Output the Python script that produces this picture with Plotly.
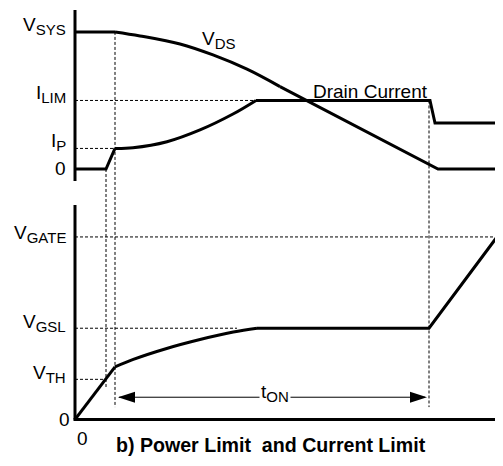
import plotly.graph_objects as go

# ---------------- data (time in arbitrary units, levels normalised) ----------------
# key instants
T_RAMP = 0.31      # drain current starts rising / V_TH crossing
T_ON0 = 0.40       # start of t_ON (I_P reached)
T_SAT = 1.81       # current reaches I_LIM, V_GS reaches V_GSL
T_OFF = 3.54       # end of t_ON
T_GATE = 4.22      # gate reaches V_GATE
T_END = 4.28

# top panel levels
V_SYS = 1.0
I_LIM = 0.50
I_P = 0.15
# bottom panel levels
V_GATE = 1.0
V_GSL = 0.50
V_TH = 0.22

# drain current
ID_A_T = [0.0, 0.31, 0.40]
ID_A = [0.0, 0.0, 0.15]
ID_B_T = [0.40, 0.58, 0.92, 1.25, 1.58, 1.81]
ID_B = [0.15, 0.155, 0.199, 0.285, 0.401, 0.50]
ID_C_T = [1.81, 3.55, 3.60, 4.28]
ID_C = [0.50, 0.50, 0.335, 0.335]

# drain-source voltage
VDS_A_T = [0.0, 0.40]
VDS_A = [1.0, 1.0]
VDS_B_T = [0.40, 0.65, 1.05, 1.38, 1.72, 2.05]
VDS_B = [1.0, 0.971, 0.912, 0.832, 0.728, 0.601]
VDS_C_T = [2.05, 3.63, 4.28]
VDS_C = [0.601, 0.0, 0.0]

# gate voltage
VG_A_T = [0.0, 0.40]
VG_A = [0.0, 0.288]
VG_B_T = [0.40, 0.583, 0.917, 1.25, 1.583, 1.82]
VG_B = [0.288, 0.329, 0.389, 0.438, 0.479, 0.50]
VG_C_T = [1.82, 3.54, 4.22, 4.28]
VG_C = [0.50, 0.50, 1.0, 1.0]

# ---------------- layout geometry ----------------
OFF = 8                      # page body margin of the html page
W, H = 503 - OFF, 466 - OFF
FONT = "Liberation Sans, Arial, sans-serif"


def fx(r):  # reference pixel x -> paper
    return (r - OFF) / W


def fy(r):  # reference pixel y -> paper
    return 1 - (r - OFF) / H


X_DOM = [fx(75), 1.0]
X_RNG = [0.0, T_END]
Y1_DOM = [fy(181), fy(10)]
Y1_RNG = [-0.0876, 1.16]
Y2_DOM = [fy(419.5), fy(205)]
Y2_RNG = [0.0, 1.175]


def px(t):
    return X_DOM[0] + (t - X_RNG[0]) / (X_RNG[1] - X_RNG[0]) * (X_DOM[1] - X_DOM[0])


def py1(v):
    return Y1_DOM[0] + (v - Y1_RNG[0]) / (Y1_RNG[1] - Y1_RNG[0]) * (Y1_DOM[1] - Y1_DOM[0])


def py2(v):
    return Y2_DOM[0] + (v - Y2_RNG[0]) / (Y2_RNG[1] - Y2_RNG[0]) * (Y2_DOM[1] - Y2_DOM[0])


fig = go.Figure()
LW = 3


def seg(tx, vy, yaxis, smooth=False):
    fig.add_trace(go.Scatter(
        x=tx, y=vy, mode="lines", yaxis=yaxis, xaxis="x",
        line=dict(color="black", width=LW, shape="spline" if smooth else "linear",
                  smoothing=1.0),
        hoverinfo="skip", showlegend=False))


seg(ID_A_T, ID_A, "y")
seg(ID_B_T, ID_B, "y", True)
seg(ID_C_T, ID_C, "y")
seg(VDS_A_T, VDS_A, "y")
seg(VDS_B_T, VDS_B, "y", True)
seg(VDS_C_T, VDS_C, "y")
seg(VG_A_T, VG_A, "y2")
seg(VG_B_T, VG_B, "y2", True)
seg(VG_C_T, VG_C, "y2")

shapes = []
DASH = dict(color="black", width=1, dash="3px,2px")


def pline(x0, y0, x1, y1, line):
    shapes.append(dict(type="line", xref="paper", yref="paper",
                       x0=x0, y0=y0, x1=x1, y1=y1, line=line, layer="below"))


# horizontal dashed guides
pline(px(0), py1(I_LIM), px(T_SAT), py1(I_LIM), DASH)
pline(px(0), py1(I_P), px(T_ON0), py1(I_P), DASH)
pline(px(0), py2(V_GATE), px(T_GATE), py2(V_GATE), DASH)
pline(px(0), py2(V_GSL), px(1.62), py2(V_GSL), DASH)
pline(px(0), py2(V_TH), px(T_RAMP), py2(V_TH), DASH)
# vertical dashed guides
pline(px(T_RAMP), py1(0), px(T_RAMP), py2(0.178), DASH)
pline(px(T_ON0), py1(V_SYS), px(T_ON0), py2(0.068), DASH)
pline(px(T_OFF), py1(I_LIM), px(T_OFF), py2(0.068), DASH)

# axes lines
AX = dict(color="black", width=3)
pline(px(0), py1(Y1_RNG[0]), px(0), py1(Y1_RNG[1]), AX)
pline(px(0), py2(0), px(0), py2(Y2_RNG[1]), AX)
pline(px(0) - 1.5 / W, py2(0), 1.0, py2(0), AX)

# t_ON arrow
ARROW_V = 0.122
ya = py2(ARROW_V)
pline(px(T_ON0) + 4 / W, ya, px(T_OFF) - 4 / W, ya, dict(color="black", width=1))
hl, hw = 17 / W, 5.5 / H
xl = px(T_ON0) + 3 / W
xr = px(T_OFF) - 2 / W
for tip, d in ((xl, 1), (xr, -1)):
    shapes.append(dict(type="path", xref="paper", yref="paper",
                       path=f"M {tip},{ya} L {tip + d * hl},{ya + hw} L {tip + d * hl},{ya - hw} Z",
                       fillcolor="black", line=dict(color="black", width=0)))

ann = []


def sub(main, s):
    return f"{main}<sub><span style=\"font-size:15px\">{s}</span></sub>"


def label(text, xp, yp, xanchor="right", size=19, yshift=0, bg=None):
    a = dict(text=text, xref="paper", yref="paper", x=xp, y=yp, xanchor=xanchor,
             yanchor="middle", showarrow=False, yshift=yshift,
             font=dict(family=FONT, size=size, color="black"))
    if bg:
        a["bgcolor"] = bg
    ann.append(a)


LX = fx(68)
label(sub("V", "SYS"), LX, py1(V_SYS), yshift=6)
label(sub("I", "LIM"), LX, py1(I_LIM), yshift=6)
label(sub("I", "P"), LX, py1(I_P), yshift=6)
label("0", LX, py1(0))
label(sub("V", "GATE"), LX, py2(V_GATE), yshift=3)
label(sub("V", "GSL"), LX, py2(V_GSL), yshift=5)
label(sub("V", "TH"), LX, py2(V_TH), yshift=5)
label("0", fx(72), py2(0))
label("0", px(0) + 7.5 / W, py2(0) - 19 / H, xanchor="center")
label(sub("V", "DS"), px(1.25), py1(0.905), xanchor="left", yshift=5)
label("Drain Current", px(2.36), py1(0.566), xanchor="left")
label(sub("t", "ON"), px(2.0), ya, xanchor="center", bg="white", yshift=4)
label("<b>b) Power Limit&nbsp; and Current Limit</b>", fx(270.5), fy(445),
      xanchor="center", size=19.6)

fig.update_layout(
    width=W, height=H, margin=dict(l=0, r=0, t=0, b=0),
    paper_bgcolor="white", plot_bgcolor="rgba(0,0,0,0)",
    showlegend=False, shapes=shapes, annotations=ann,
    xaxis=dict(domain=X_DOM, range=X_RNG, visible=False, anchor="y2"),
    yaxis=dict(domain=Y1_DOM, range=Y1_RNG, visible=False, anchor="x"),
    yaxis2=dict(domain=Y2_DOM, range=Y2_RNG, visible=False, anchor="x"),
)
fig.write_html("out.html")
